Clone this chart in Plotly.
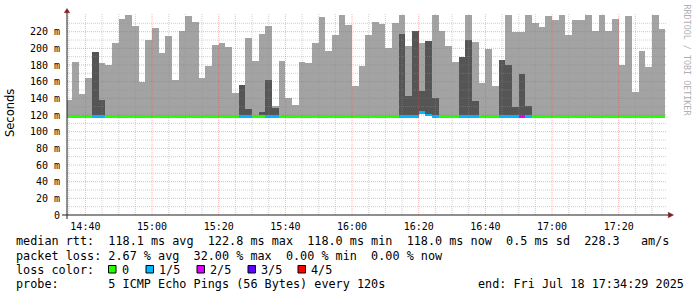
import plotly.graph_objects as go
import pandas as pd

# ---------------- data ----------------
start_time = "2025-07-18 14:34:00"   # first 2-minute step
step_minutes = 2
range_start = "2025-07-18 14:34:29"
range_end = "2025-07-18 17:34:29"

# top of the light smoke per step (ms)
light_top = [
    138, 184, 145, 165, 196, 182, 180, 207, 235, 240,
    227, 160, 210, 225, 194, 215, 162, 221, 239, 232,
    164, 179, 204, 206, 202, 146, 156, 213, 185, 217,
    227, 131, 185, 140, 132, 184, 182, 206, 238, 197,
    216, 240, 228, 155, 179, 216, 232, 229, 201, 231,
    240, 203, 221, 207, 209, 240, 221, 203, 184, 190,
    240, 208, 159, 199, 155, 186, 240, 220, 220, 240,
    231, 226, 239, 234, 240, 216, 234, 234, 240, 221,
    240, 221, 235, 180, 239, 148, 197, 178, 240, 223,
]
# top of the dark smoke per step (ms), None = no dark part
N = None
dark_top = [
    N, N, N, N, 196, 138, N, N, N, N,
    N, N, N, N, N, N, N, N, N, N,
    N, N, N, N, N, N, 156, 127, N, 124,
    162, 129, N, N, N, N, N, N, N, N,
    N, N, N, N, N, N, N, N, N, N,
    217, 143, 221, 149, 209, 140, N, N, N, 190,
    210, 137, N, N, N, 186, 180, 130, 169, 131,
    N, N, N, N, N, N, N, N, N, N,
    N, N, N, N, N, N, N, N, N, N,
]
# median rtt per step (ms)
median_rtt = [
    118.2, 118.2, 118.2, 118.2, 118.2, 118.2, 118.2, 118.2, 118.2, 118.2,
    118.2, 118.2, 118.2, 118.2, 118.2, 118.2, 118.2, 118.2, 118.2, 118.2,
    118.2, 118.2, 118.2, 118.2, 118.2, 118.2, 118.2, 118.2, 118.2, 118.2,
    118.2, 118.2, 118.2, 118.2, 118.2, 118.2, 118.2, 118.2, 118.2, 118.2,
    118.2, 118.2, 118.2, 118.2, 118.2, 118.2, 118.2, 118.2, 118.2, 118.2,
    118.2, 118.2, 118.2, 122.8, 120.0, 118.2, 118.2, 118.2, 118.2, 118.2,
    118.2, 118.2, 118.2, 118.2, 118.2, 118.2, 118.2, 118.2, 118.2, 118.2,
    118.2, 118.2, 118.2, 118.2, 118.2, 118.2, 118.2, 118.2, 118.2, 118.2,
    118.2, 118.2, 118.2, 118.2, 118.2, 118.2, 118.2, 118.2, 118.2, 118.2,
]
# lost pings (out of 5) per step
loss_count = [
    0, 0, 0, 0, 1, 1, 0, 0, 0, 0,
    0, 0, 0, 0, 0, 0, 0, 0, 0, 0,
    0, 0, 0, 0, 0, 0, 1, 1, 0, 0,
    1, 1, 0, 0, 0, 0, 0, 0, 0, 0,
    0, 0, 0, 0, 0, 0, 0, 0, 0, 0,
    1, 1, 1, 1, 1, 1, 0, 0, 0, 1,
    1, 1, 0, 0, 0, 1, 1, 1, 2, 1,
    0, 0, 0, 0, 0, 0, 0, 0, 0, 0,
    0, 0, 0, 0, 0, 0, 0, 0, 0, 0,
]
loss_labels = ["0", "1/5", "2/5", "3/5", "4/5"]
loss_colors = ["#26ff00", "#00b8ff", "#dd00ff", "#5e00ff", "#ff0000"]

y_tick_vals = [0, 20, 40, 60, 80, 100, 120, 140, 160, 180, 200, 220]
y_tick_text = ["0", "20 m", "40 m", "60 m", "80 m", "100 m", "120 m",
               "140 m", "160 m", "180 m", "200 m", "220 m"]
x_tick_text = ["14:40", "15:00", "15:20", "15:40", "16:00", "16:20",
               "16:40", "17:00", "17:20"]

stat_lines = [
    "median rtt:  118.1 ms avg  122.8 ms max  118.0 ms min  118.0 ms now  0.5 ms sd  228.3   am/s",
    "packet loss: 2.67 % avg  32.00 % max  0.00 % min  0.00 % now",
    "loss color:",
    "probe:       5 ICMP Echo Pings (56 Bytes) every 120s",
]
end_text = "end: Fri Jul 18 17:34:29 2025"

# ---------------- geometry helpers ----------------
W, H = 697, 297
ML, MR, MT, MB = 67, 30, 13, 82
PW = W - ML - MR
PH = H - MT - MB
Y_MAX = 242.4


def px(xp):
    return (xp - ML) / PW


def py(yp):
    return (H - MB - yp) / PH


def nb(s):
    return s.replace(" ", "\u00a0")


n = len(light_top)
step_starts = pd.date_range(start_time, periods=n, freq=f"{step_minutes}min")
centers = step_starts + pd.Timedelta(minutes=step_minutes / 2)
bar_w = step_minutes * 60 * 1000

LIGHT = "#a3a3a3"
DARK = "#555555"
MONO = "DejaVu Sans Mono"

fig = go.Figure()
fig.add_trace(go.Bar(
    x=centers, base=median_rtt,
    y=[t - m for t, m in zip(light_top, median_rtt)],
    width=bar_w, marker=dict(color=LIGHT, line=dict(width=0)), opacity=1,
    hoverinfo="skip", showlegend=False))
fig.add_trace(go.Bar(
    x=centers, base=median_rtt,
    y=[(d - m) if d is not None else None for d, m in zip(dark_top, median_rtt)],
    width=bar_w, marker=dict(color=DARK, line=dict(width=0)), opacity=1,
    hoverinfo="skip", showlegend=False))
line_h = 3.2
fig.add_trace(go.Bar(
    x=centers, base=[m - line_h / 2 for m in median_rtt], y=[line_h] * n,
    width=bar_w,
    marker=dict(color=[loss_colors[c] for c in loss_count], line=dict(width=0)),
    opacity=1, hoverinfo="skip", showlegend=False))

shapes = []
MINOR = "rgba(143,143,143,0.42)"
MAJOR = "rgba(222,79,79,0.42)"
DASH = "1px,1px"
# horizontal grid
for v in range(10, 240, 10):
    shapes.append(dict(type="line", xref="paper", yref="y", x0=0, x1=1, y0=v, y1=v,
                       line=dict(color=MAJOR if v % 20 == 0 else MINOR, width=1, dash=DASH),
                       layer="above"))
# vertical grid
for t in pd.date_range("2025-07-18 14:35", "2025-07-18 17:30", freq="5min"):
    shapes.append(dict(type="line", xref="x", yref="paper", x0=t, x1=t, y0=0, y1=1,
                       line=dict(color=MAJOR if t.minute % 20 == 0 else MINOR, width=1, dash=DASH),
                       layer="above"))
AXC = "rgb(31,31,31)"
ARC = "rgb(128,31,31)"
shapes.append(dict(type="line", xref="paper", yref="paper", x0=px(62), x1=px(669),
                   y0=0, y1=0, line=dict(color=AXC, width=1), layer="above"))
shapes.append(dict(type="line", xref="paper", yref="paper", x0=0, x1=0,
                   y0=py(219), y1=py(11), line=dict(color=AXC, width=1), layer="above"))
shapes.append(dict(type="path", xref="paper", yref="paper",
                   path=f"M {px(64.3)} {py(12.7)} L {px(69.7)} {py(12.7)} L {px(67)} {py(8.5)} Z",
                   fillcolor=ARC, line=dict(color=ARC, width=0.5), layer="above"))
shapes.append(dict(type="path", xref="paper", yref="paper",
                   path=f"M {px(668.3)} {py(212.3)} L {px(668.3)} {py(217.7)} L {px(673.5)} {py(215)} Z",
                   fillcolor=ARC, line=dict(color=ARC, width=0.5), layer="above"))

annotations = []
# stats text
line_y = [241.5, 255.5, 269.5, 283.5]
for s, yp in zip(stat_lines, line_y):
    annotations.append(dict(text=nb(s), xref="paper", yref="paper", x=px(15.5), y=py(yp),
                            xanchor="left", yanchor="middle", showarrow=False,
                            borderpad=0, borderwidth=0,
                            font=dict(family=MONO, size=11.8, color="#000000")))
annotations.append(dict(text=nb(end_text), xref="paper", yref="paper", x=px(477.5), y=py(283.5),
                        xanchor="left", yanchor="middle", showarrow=False,
                        borderpad=0, borderwidth=0,
                        font=dict(family=MONO, size=11.8, color="#000000")))
# loss colour legend
sw_x = [108.5, 146, 197, 248, 298]
lab_x = [121.5, 159, 210, 260.5, 310.5]
for lab, col, sx, lx in zip(loss_labels, loss_colors, sw_x, lab_x):
    shapes.append(dict(type="rect", xref="paper", yref="paper",
                       x0=px(sx), x1=px(sx + 7.5), y0=py(273), y1=py(265.5),
                       fillcolor=col, line=dict(color="#000000", width=1), layer="above"))
    annotations.append(dict(text=nb(lab), xref="paper", yref="paper", x=px(lx), y=py(269.5),
                            xanchor="left", yanchor="middle", showarrow=False,
                            borderpad=0, borderwidth=0,
                            font=dict(family=MONO, size=11.8, color="#000000")))
# axis title
annotations.append(dict(text="Seconds", xref="paper", yref="paper", x=px(10), y=py(113),
                        xanchor="center", yanchor="middle", textangle=-90, showarrow=False,
                        font=dict(family="DejaVu Sans", size=11.5, color="#000000")))
# watermark
annotations.append(dict(text=nb("RRDTOOL / TOBI OETIKER"), xref="paper", yref="paper",
                        x=px(686.5), y=py(60), xanchor="center", yanchor="middle",
                        textangle=90, showarrow=False,
                        font=dict(family=MONO, size=8.4, color="#b0b0b0")))

fig.update_layout(
    width=W, height=H,
    margin=dict(l=ML, r=MR, t=MT, b=MB, pad=0),
    paper_bgcolor="white", plot_bgcolor="white",
    barmode="overlay", bargap=0,
    showlegend=False,
    shapes=shapes, annotations=annotations,
    xaxis=dict(type="date", range=[range_start, range_end],
               tickvals=[f"2025-07-18 {t}:00" for t in x_tick_text], ticktext=x_tick_text,
               showgrid=False, zeroline=False, showline=False, ticks="",
               ticklabelstandoff=4,
               tickfont=dict(family=MONO, size=10, color="#000000")),
    yaxis=dict(range=[0, Y_MAX], tickvals=y_tick_vals, ticktext=y_tick_text,
               showgrid=False, zeroline=False, showline=False, ticks="",
               ticklabelstandoff=6,
               tickfont=dict(family=MONO, size=10, color="#000000")),
)

fig.write_html("out.html")
